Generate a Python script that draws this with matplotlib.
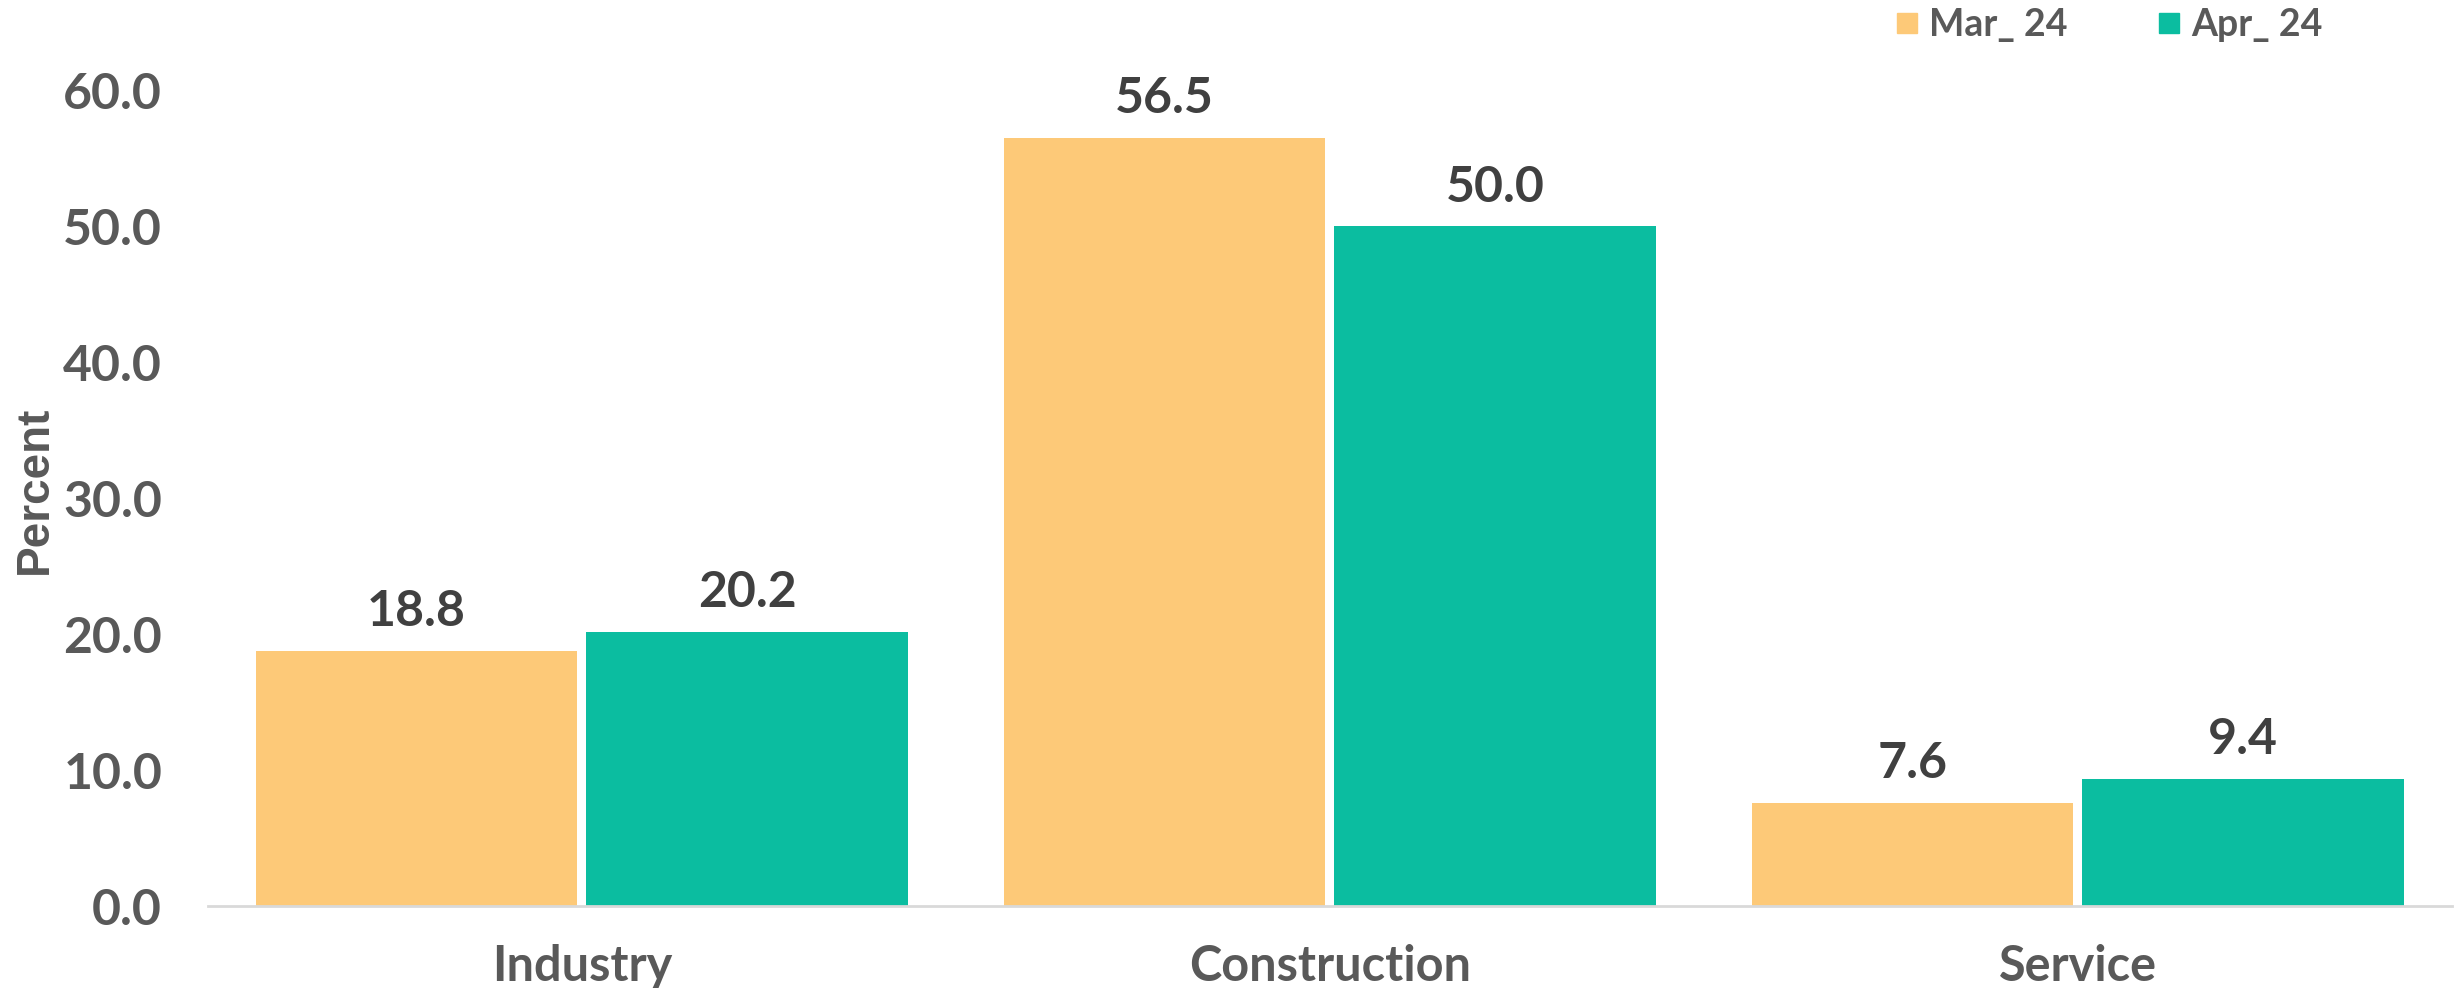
"""Grouped bar chart: share by sector, Mar_ 24 vs Apr_ 24."""
import matplotlib

matplotlib.use("Agg")
import matplotlib.pyplot as plt  # noqa: E402
import numpy as np  # noqa: E402
from matplotlib.lines import Line2D  # noqa: E402

categories = ["Industry", "Construction", "Service"]
series_names = ["Mar_ 24", "Apr_ 24"]
mar_24 = [18.8, 56.5, 7.6]
apr_24 = [20.2, 50.0, 9.4]
yticks = [0, 10, 20, 30, 40, 50, 60]

ORANGE = "#FDC978"
TEAL = "#0BBDA0"
TICK = "#595959"
LABEL = "#404040"
FONT = "Lato"

fig = plt.figure(figsize=(24.61, 9.88), dpi=100)
ax = fig.add_axes([0.0845, 0.0825, 0.9118, 0.826])

x = np.arange(len(categories))
off, w = 0.221, 0.43
for vals, dx, color in ((mar_24, -off, ORANGE), (apr_24, off, TEAL)):
    bars = ax.bar(x + dx, vals, width=w, color=color, zorder=2)
    for b, v in zip(bars, vals):
        ax.annotate(f"{v:.1f}", (b.get_x() + b.get_width() / 2, v),
                    xytext=(0, 12), textcoords="offset points",
                    ha="center", va="bottom", fontsize=36, fontweight="bold",
                    color=LABEL, family=FONT)

ax.set_xlim(-0.5, 2.5)
ax.set_ylim(0, 60)
ax.set_yticks(yticks, [f"{t:.1f}" for t in yticks])
ax.set_xticks(x, categories)
ax.tick_params(axis="y", length=0, pad=33, labelsize=36, labelcolor=TICK)
ax.tick_params(axis="x", length=0, pad=27, labelsize=35, labelcolor=TICK)
for lab in ax.get_xticklabels() + ax.get_yticklabels():
    lab.set_fontweight("bold")
    lab.set_family(FONT)

for s in ("top", "right", "left"):
    ax.spines[s].set_visible(False)
ax.spines["bottom"].set_color("#D9D9D9")
ax.spines["bottom"].set_linewidth(2)

fig.text(0.014, 0.504, "Percent", rotation=90, ha="center", va="center",
         fontsize=33, fontweight="bold", color=TICK, family="Liberation Sans")

handles = [Line2D([], [], marker="s", linestyle="none", markersize=15,
                  markerfacecolor=c, markeredgecolor=c) for c in (ORANGE, TEAL)]
leg = fig.legend(handles, series_names, loc="center", bbox_to_anchor=(0.857, 0.975),
                 ncol=2, frameon=False, handlelength=0.6, handletextpad=0.3,
                 columnspacing=2.4, borderpad=0,
                 prop={"family": FONT, "weight": "bold", "size": 27})
for t in leg.get_texts():
    t.set_color(TICK)

fig.savefig("out.png", dpi=100)
